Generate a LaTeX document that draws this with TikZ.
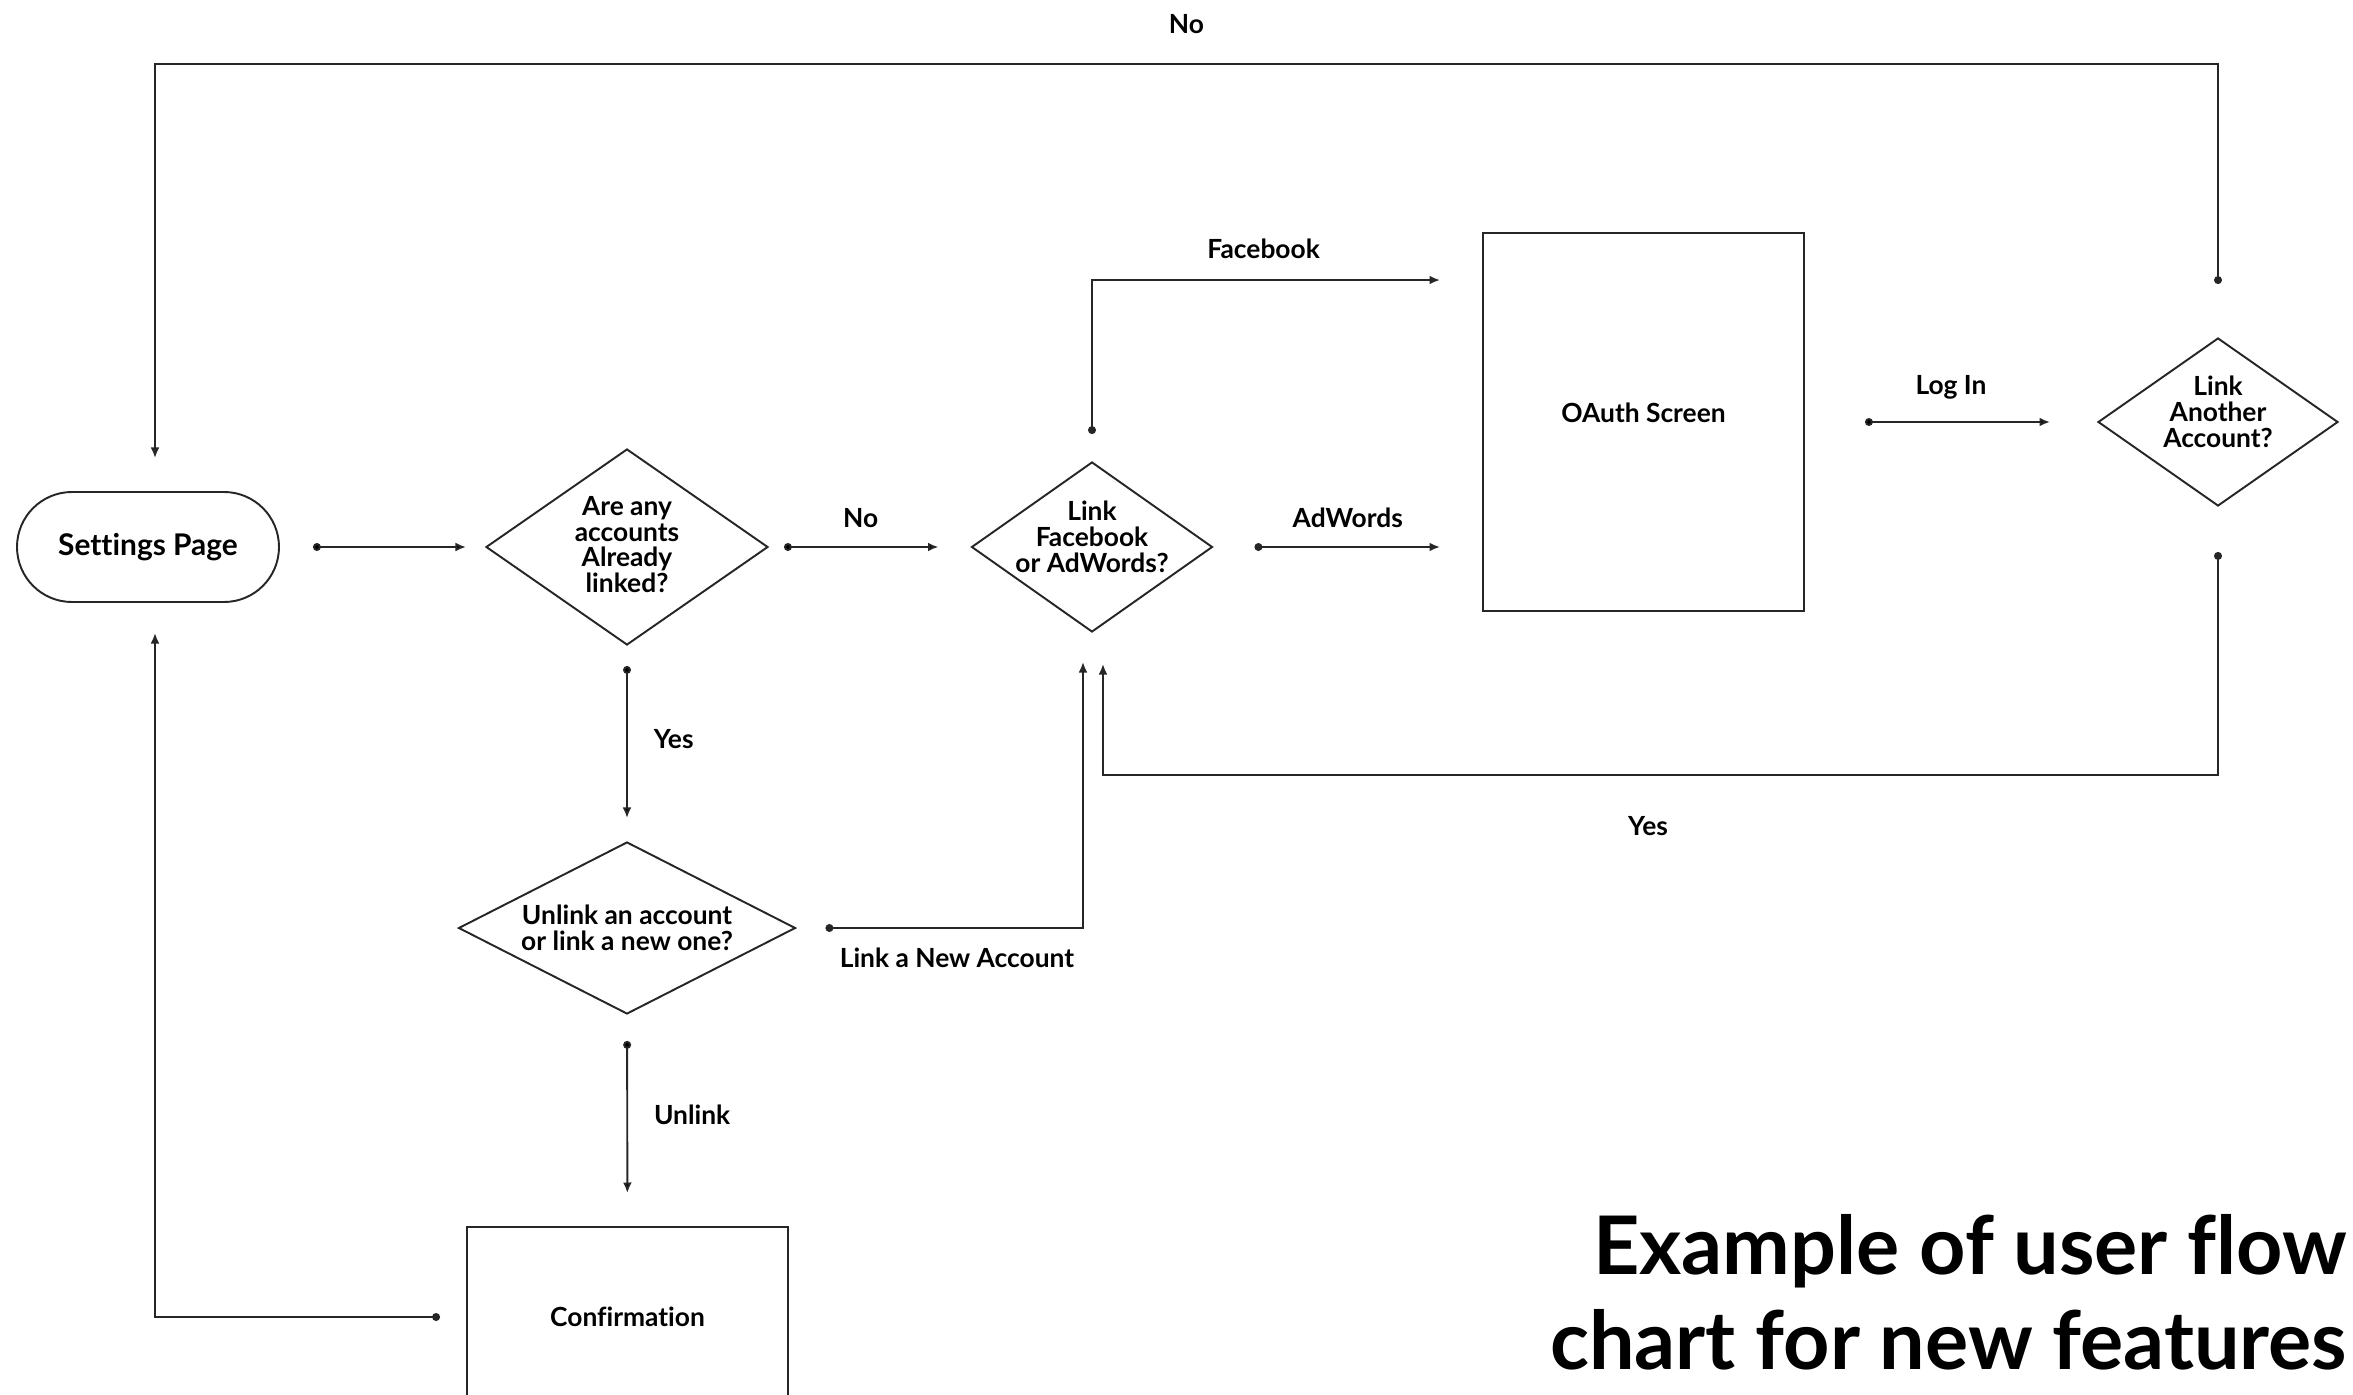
\documentclass[tikz,border=0pt]{standalone}
\usepackage{fontspec}
\setmainfont{Lato}[Ligatures={NoCommon,NoRequired,NoContextual}]
\usetikzlibrary{arrows.meta,shapes.geometric}
\begin{document}
\begin{tikzpicture}[
	font=\bfseries\fontsize{15}{14.7}\selectfont,
	line width=1.1pt,
	terminal/.style={rectangle, rounded corners=1.1cm, minimum width=5.24cm, minimum height=2.2cm,
		draw=black!85, font=\bfseries\fontsize{17}{18}\selectfont},
	decision/.style={diamond, draw=black!85, inner sep=0pt},
	screen/.style={rectangle, draw=black!85},
	flow/.style={draw=black!85, {Circle[length=4.5pt]}-{Latex[length=6pt,width=5pt]}},
	heading/.style={font=\bfseries\fontsize{46}{54}\selectfont}]
	\useasboundingbox (-2.96,-16.94) rectangle (44.1,10.94);
	\node[terminal] (0) {Settings Page};
	\node[decision, xshift=9.58cm, minimum width=5.64cm, minimum height=3.92cm,
		label={[align=center, yshift=0.05cm]center:Are any\\accounts\\Already\\linked?}] (1) {};
	\node[decision, xshift=18.88cm, minimum width=4.82cm, minimum height=3.4cm,
		label={[align=center, yshift=0.21cm]center:Link\\Facebook\\or AdWords?}] (2) {};
	\node[screen, xshift=29.91cm, yshift=2.5cm, minimum width=6.42cm, minimum height=7.56cm,
		label={[yshift=0.18cm]center:OAuth Screen}] (3) {};
	\node[decision, xshift=41.4cm, yshift=2.5cm, minimum width=4.8cm, minimum height=3.36cm,
		label={[align=center, yshift=0.21cm]center:Link\\Another\\Account?}] (4) {};
	\node[decision, xshift=9.58cm, yshift=-7.62cm, minimum width=6.74cm, minimum height=3.44cm,
		label={[align=center]center:Unlink an account\\or link a new one?}] (5) {};
	\node[screen, xshift=9.59cm, yshift=-15.4cm, minimum width=6.42cm, minimum height=3.6cm] (6) {Confirmation};
	\node[heading, anchor=east, align=right, xshift=44.12cm, yshift=-14.9cm] (7) {Example of user flow\\chart for new features};
	\draw[flow]
				(0) edge[shorten <=0.66cm, shorten >=0.38cm] (1)
				(1) edge[shorten <=0.3cm, shorten >=0.64cm] node[midway, above, xshift=-0.18cm, yshift=0.25cm] {No} (2)
				(3) edge[shorten <=1.2cm, shorten >=0.94cm] node[midway, above, yshift=0.32cm] {Log In} (4)
				(1) edge[shorten <=0.4cm, shorten >=0.46cm] node[midway, right, xshift=0.4cm, yshift=0.09cm] {Yes} (5)
				(5) edge[shorten <=0.52cm, shorten >=0.66cm] node[midway, right, xshift=0.4cm, yshift=0.12cm] {Unlink} (6);
	\draw[flow, shorten <=0.82cm, shorten >=0.84cm] (2.east) -- node[above, yshift=0.25cm] {AdWords} (2.east -| 3.west);
	\draw[flow, shorten <=0.54cm, shorten >=0.84cm] (2.north) |- node[pos=0.72, above, yshift=0.29cm] {Facebook} ([yshift=-0.96cm]3.north west);
	\draw[flow, shorten <=1.06cm, shorten >=0.66cm] (4.north) -- ++(0,5.46) -| node[pos=0.25, above, yshift=0.47cm] {No} ([xshift=0.14cm]0.north);
	\draw[flow, shorten <=0.9cm, shorten >=0.62cm] (4.south) -- ++(0,-5.36) -| node[pos=0.2556, below, yshift=-0.7cm] {Yes} ([xshift=0.22cm]2.south);
	\draw[flow, shorten <=0.58cm, shorten >=0.58cm] (5.east) -| node[pos=0.28, below, yshift=-0.27cm] {Link a New Account} ([xshift=-0.18cm]2.south);
	\draw[flow, shorten <=0.52cm, shorten >=0.6cm] (6.west) -| ([xshift=0.14cm]0.south);
\end{tikzpicture}
\end{document}
